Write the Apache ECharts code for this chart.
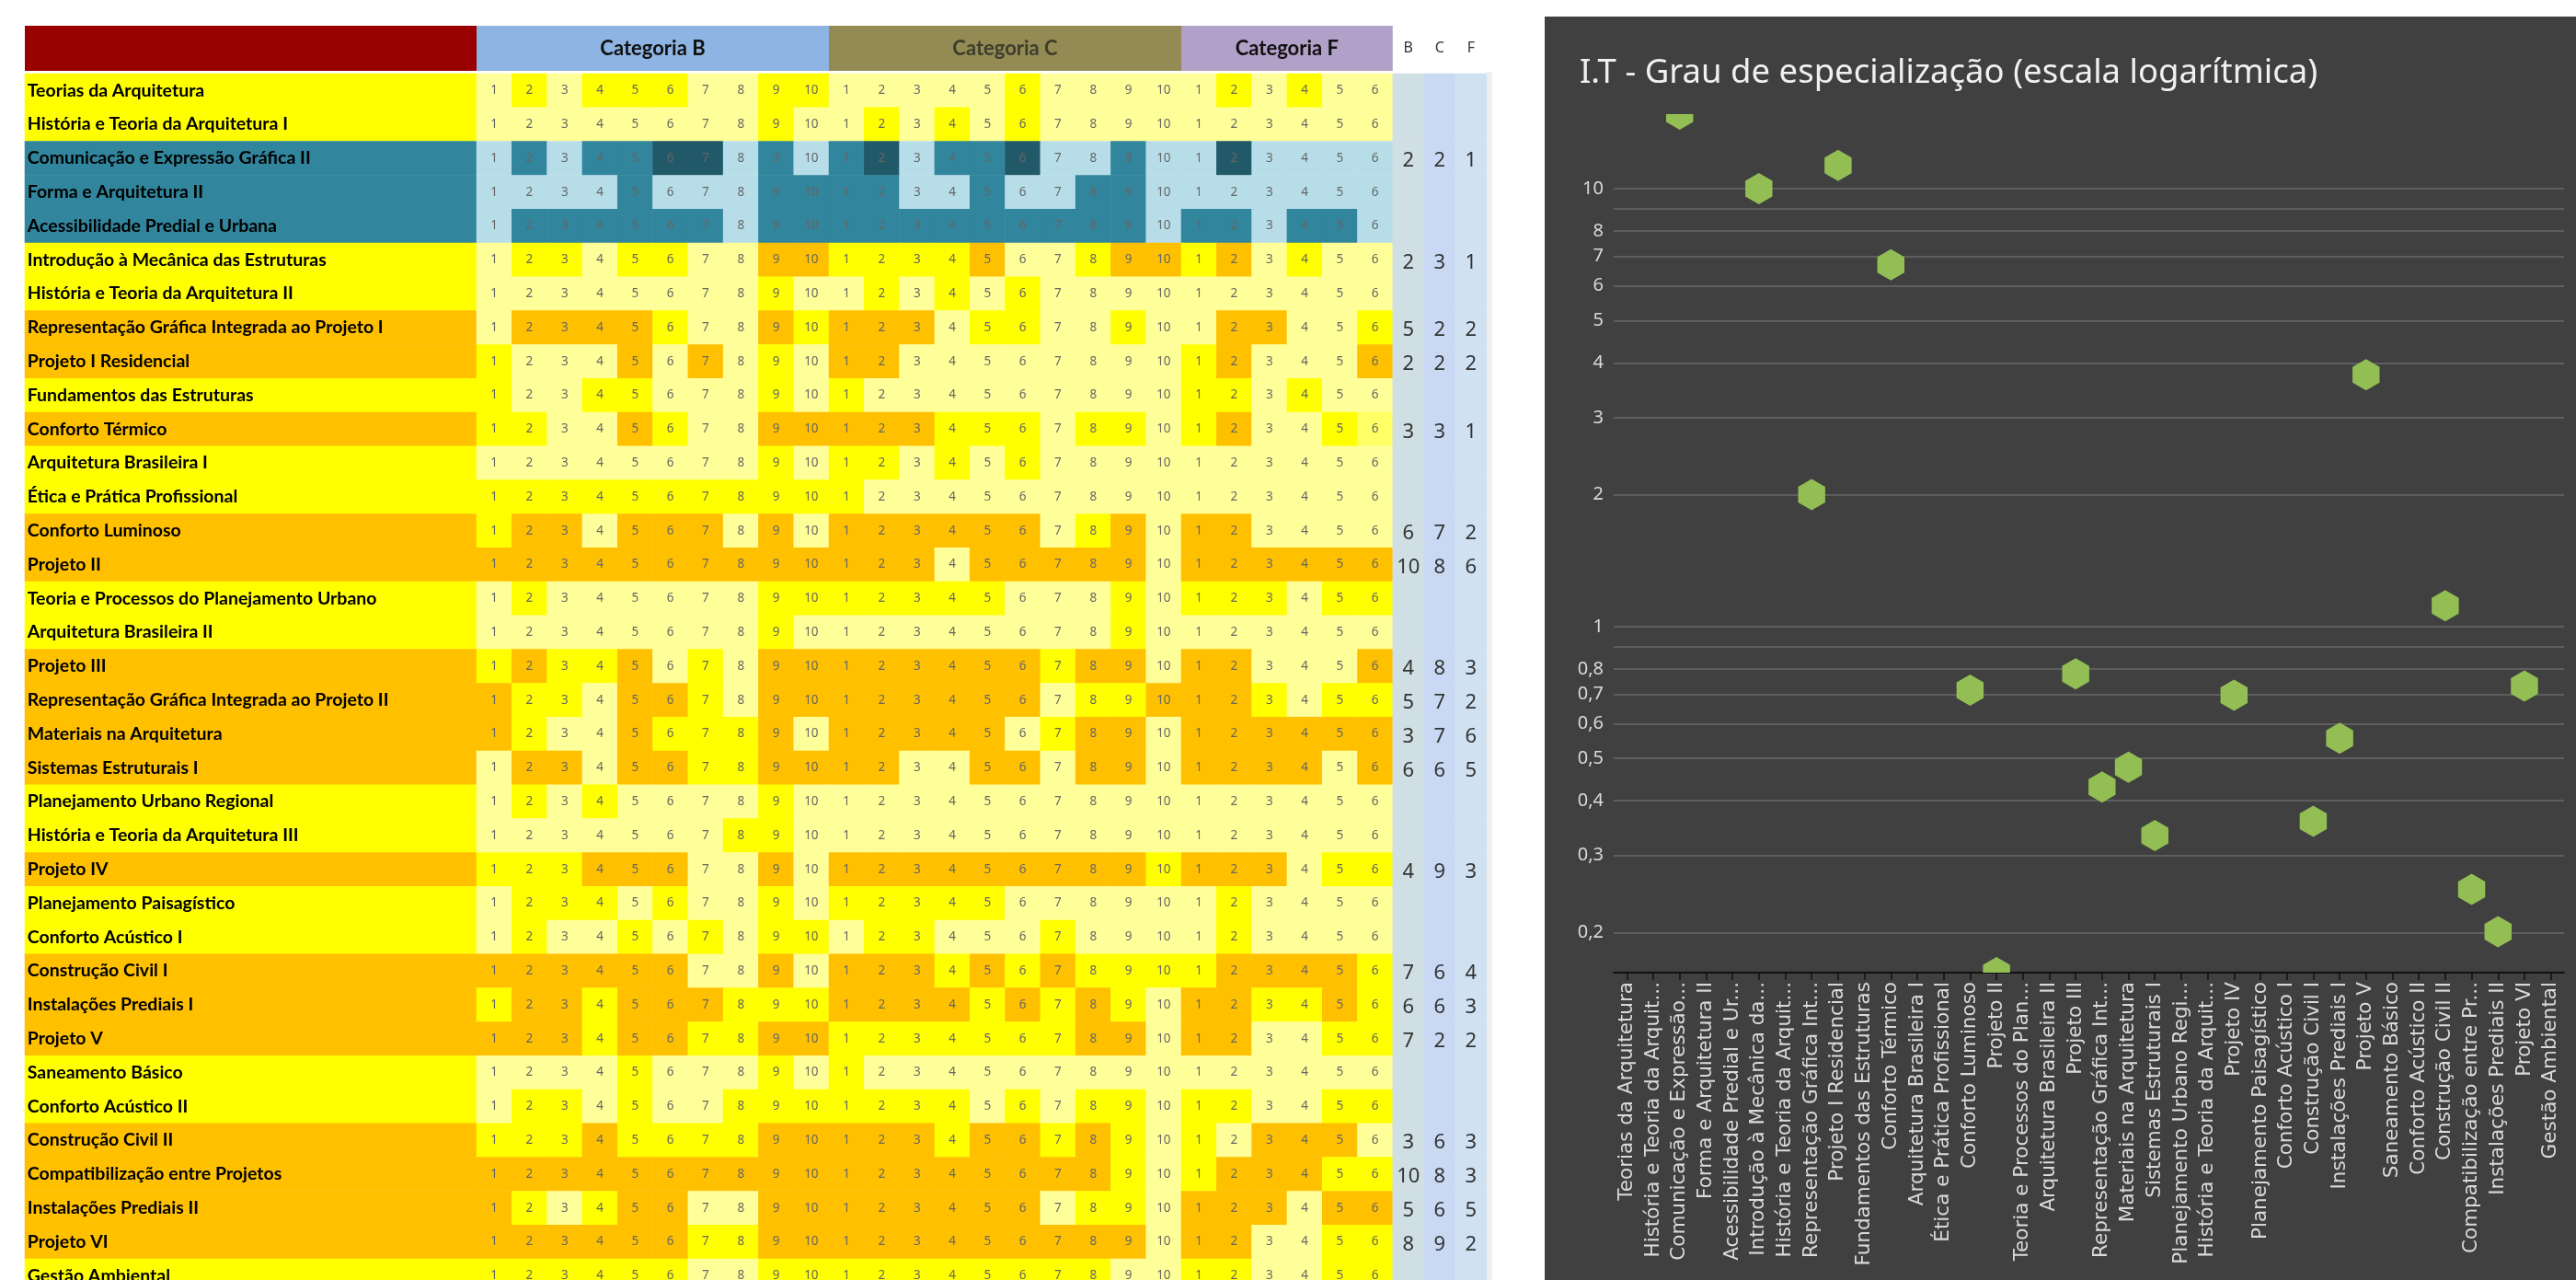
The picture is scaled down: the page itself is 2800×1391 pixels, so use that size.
<!DOCTYPE html>
<html><head><meta charset="utf-8">
<script src="https://cdn.jsdelivr.net/npm/echarts@6/dist/echarts.min.js"></script>
<style>
html,body{margin:0;padding:0;background:#ffffff;width:2800px;height:1391px;overflow:hidden;position:relative;}
#table{position:absolute;left:0;top:0;width:1679px;height:1460px;}
#chart{position:absolute;left:1679px;top:18px;width:1121px;height:1373px;}
</style>
</head><body>
<div id="table"></div><div id="chart"></div>
<script>
// ---------------- DATA ----------------
const courses = [
 'Teorias da Arquitetura','História e Teoria da Arquitetura I','Comunicação e Expressão Gráfica II','Forma e Arquitetura II',
 'Acessibilidade Predial e Urbana','Introdução à Mecânica das Estruturas','História e Teoria da Arquitetura II',
 'Representação Gráfica Integrada ao Projeto I','Projeto I Residencial','Fundamentos das Estruturas','Conforto Térmico',
 'Arquitetura Brasileira I','Ética e Prática Profissional','Conforto Luminoso','Projeto II',
 'Teoria e Processos do Planejamento Urbano','Arquitetura Brasileira II','Projeto III',
 'Representação Gráfica Integrada ao Projeto II','Materiais na Arquitetura','Sistemas Estruturais I',
 'Planejamento Urbano Regional','História e Teoria da Arquitetura III','Projeto IV','Planejamento Paisagístico',
 'Conforto Acústico I','Construção Civil I','Instalações Prediais I','Projeto V','Saneamento Básico',
 'Conforto Acústico II','Construção Civil II','Compatibilização entre Projetos','Instalações Prediais II',
 'Projeto VI','Gestão Ambiental'
];
// row tone: Y = yellow, O = orange, T = teal
const rowTone = ['Y','Y','T','T','T','Y','Y','O','O','Y','O','Y','Y','O','O','Y','Y','O','O','O','O','Y','Y','O','Y','Y','O','O','O','Y','Y','O','O','O','O','Y'];
// cell levels: 0 light, 1 medium, 2 strong, 3 pale-medium
const levelsB = ['0101110011','0000000010','0101122010','0000100011','0111111011','0110110022','0000000010','0222210021',
 '1000202010','1001100010','1100210022','0000000010','1111111111','1220222020','2222222222','0100000011','0000000010',
 '1211201022','2110221022','2100211120','0220221122','0101000010','0000000110','1112220020','0111010010','0100101011',
 '2222220020','1221222111','2221221122','0000100010','0110100111','1112111122','2222222222','2101220022','2222221122','1111110011'];
const levelsC = ['0000010000','0101010000','1201120010','1100100110','1111111110','1111200122','0101010000','2220110010',
 '2200000000','1000000000','2221110110','1101010000','1000000000','2222220120','2220222220','1111100010','0000000010',
 '2222221220','2222220112','2222201220','2200220220','0000000000','0000000000','2222222221','1111100000','0110001000',
 '2221212111','2222121210','1111111220','1000000000','1111010110','2221221210','2222222210','2222220110','2222222220','1111111100'];
const levelsF = ['010100','000000','020000','000000','110110','120100','000000','022001','120002','110100','120013','000000',
 '000000','220000','222222','111011','000000','220002','221011','222222','222202','000000','000000','222011','010000','010000',
 '122221','221121','220011','000000','110011','102220','122211','222022','220011','110011'];
const colNumbers = ['1','2','3','4','5','6','7','8','9','10','1','2','3','4','5','6','7','8','9','10','1','2','3','4','5','6'];
const categoryNames = ['Categoria B','Categoria C','Categoria F'];
const categorySizes = [10, 10, 6];
const countLetters = ['B','C','F'];
const countB = [null,null,2,null,null,2,null,5,2,null,3,null,null,6,10,null,null,4,5,3,6,null,null,4,null,null,7,6,7,null,null,3,10,5,8,null];
const countC = [null,null,2,null,null,3,null,2,2,null,3,null,null,7,8,null,null,8,7,7,6,null,null,9,null,null,6,6,2,null,null,6,8,6,9,null];
const countF = [null,null,1,null,null,1,null,2,2,null,1,null,null,2,6,null,null,3,2,6,5,null,null,3,null,null,4,3,2,null,null,3,3,5,2,null];

const chartTitle = 'I.T - Grau de especialização (escala logarítmica)';
const chartLabels = ['Teorias da Arquitetura','História e Teoria da Arquit...','Comunicação e Expressão...','Forma e Arquitetura II',
 'Acessibilidade Predial e Ur...','Introdução à Mecânica da...','História e Teoria da Arquit...','Representação Gráfica Int...',
 'Projeto I Residencial','Fundamentos das Estruturas','Conforto Térmico','Arquitetura Brasileira I','Ética e Prática Profissional',
 'Conforto Luminoso','Projeto II','Teoria e Processos do Plan...','Arquitetura Brasileira II','Projeto III',
 'Representação Gráfica Int...','Materiais na Arquitetura','Sistemas Estruturais I','Planejamento Urbano Regi...',
 'História e Teoria da Arquit...','Projeto IV','Planejamento Paisagístico','Conforto Acústico I','Construção Civil I',
 'Instalações Prediais I','Projeto V','Saneamento Básico','Conforto Acústico II','Construção Civil II',
 'Compatibilização entre Pr...','Instalações Prediais II','Projeto VI','Gestão Ambiental'];
const specialization = [null,null,14.8,null,null,10,null,2.0,11.3,null,6.7,null,null,0.716,0.162,null,null,0.78,0.43,0.477,0.333,
 null,null,0.697,null,null,0.359,0.556,3.76,null,null,1.115,0.251,0.201,0.731,null];
const yTickValues = [0.2,0.3,0.4,0.5,0.6,0.7,0.8,0.9,1,2,3,4,5,6,7,8,9,10];
const yLabelValues = [0.2,0.3,0.4,0.5,0.6,0.7,0.8,1,2,3,4,5,6,7,8,10];
const yMin = 0.162, yMax = 14.8;

// ---------------- LAYOUT / STYLE ----------------
const LY = {left:27, nameW:491, colW:38.3, cntW:34, headTop:28, headH:49, rowTop:80, rowH:36.8};
const nCols = colNumbers.length, nRows = courses.length;
const numLeft = LY.left + LY.nameW;
const cntLeft = numLeft + nCols * LY.colW;
const pieces = [
 {value:0,color:'#FFFF99'},{value:1,color:'#FFFF00'},{value:2,color:'#FFC000'},{value:3,color:'#FFFF66'},
 {value:10,color:'#B7DEE8'},{value:11,color:'#31859C'},{value:12,color:'#215968'},{value:13,color:'#B7DEE8'},
 {value:20,color:'#FFFF00'},{value:21,color:'#FFC000'},{value:22,color:'#31859C'},
 {value:30,color:'#D0DFE3'},{value:31,color:'#C9D9F3'},{value:32,color:'#D0E2F2'}
];
const toneCode = {Y:20, O:21, T:22};
const headColors = ['#8DB4E2','#948A54','#B1A0C7'];
const headText = ['#111111','#3d3d2c','#111111'];

// build data
const nameData = courses.map((c, i) => [0, i, toneCode[rowTone[i]]]);
const cellData = [];
courses.forEach((c, i) => {
  const lv = (levelsB[i] + levelsC[i] + levelsF[i]).split('').map(Number);
  lv.forEach((v, j) => cellData.push([j, i, rowTone[i] === 'T' ? 10 + v : v]));
});
const counts = [countB, countC, countF];
const cntData = [];
courses.forEach((c, i) => { for (let j = 0; j < 3; j++) cntData.push([j, i, 30 + j]); });

const idx = n => Array.from({length:n}, (_, i) => String(i));
const hiddenCat = (n, g, inv) => ({type:'category', gridIndex:g, data:idx(n), show:false, inverse:!!inv, boundaryGap:true});

// header graphics
const graphics = [];
graphics.push({type:'rect', shape:{x:LY.left, y:LY.headTop, width:LY.nameW, height:LY.headH}, style:{fill:'#990000'}});
let start = 0;
categoryNames.forEach((name, k) => {
  const x = numLeft + start * LY.colW, w = categorySizes[k] * LY.colW;
  graphics.push({type:'rect', shape:{x:x, y:LY.headTop, width:w, height:LY.headH}, style:{fill:headColors[k]}});
  graphics.push({type:'text', x:x + w/2, y:LY.headTop + LY.headH/2,
    style:{text:name, fill:headText[k], font:'bold 22px Lato, "Noto Sans", sans-serif', align:'center', verticalAlign:'middle'}});
  start += categorySizes[k];
});
countLetters.forEach((t, j) => {
  graphics.push({type:'text', x:cntLeft + (j + 0.5) * LY.cntW, y:LY.headTop + LY.headH/2,
    style:{text:t, fill:'#333333', font:'16px "Noto Sans", sans-serif', align:'center', verticalAlign:'middle'}});
});
graphics.push({type:'rect', shape:{x:cntLeft + 3*LY.cntW, y:LY.rowTop - 2, width:6, height:1391}, style:{fill:'#EFEFEF'}});

const tableChart = echarts.init(document.getElementById('table'), null, {renderer:'canvas'});
tableChart.setOption({
  animation:false,
  backgroundColor:'#ffffff',
  grid:[
    {left:LY.left, top:LY.rowTop, width:LY.nameW, height:nRows*LY.rowH},
    {left:numLeft, top:LY.rowTop, width:nCols*LY.colW, height:nRows*LY.rowH},
    {left:cntLeft, top:LY.rowTop, width:3*LY.cntW, height:nRows*LY.rowH}
  ],
  xAxis:[hiddenCat(1,0), hiddenCat(nCols,1), hiddenCat(3,2)],
  yAxis:[hiddenCat(nRows,0,true), hiddenCat(nRows,1,true), hiddenCat(nRows,2,true)],
  visualMap:{type:'piecewise', show:false, dimension:2, seriesIndex:[0,1,2], pieces:pieces},
  graphic:graphics,
  series:[
    {type:'heatmap', xAxisIndex:0, yAxisIndex:0, data:nameData, progressive:0, emphasis:{disabled:true},
     label:{show:true, position:'insideLeft', distance:3, formatter:p => courses[p.value[1]],
            color:'#000000', fontFamily:'Lato, "Noto Sans", sans-serif', fontWeight:'bold', fontSize:19.5}},
    {type:'heatmap', xAxisIndex:1, yAxisIndex:1, data:cellData, progressive:0, emphasis:{disabled:true},
     label:{show:true, formatter:p => colNumbers[p.value[0]], color:'#666666',
            fontFamily:'"Noto Sans", sans-serif', fontSize:13.5}},
    {type:'heatmap', xAxisIndex:2, yAxisIndex:2, data:cntData, progressive:0, emphasis:{disabled:true},
     label:{show:true, formatter:p => { const v = counts[p.value[0]][p.value[1]]; return v == null ? '' : String(v); },
            color:'#333333', fontFamily:'"Noto Sans", sans-serif', fontSize:22, offset:[0,3]}}
  ]
});

// ---------------- SCATTER CHART ----------------
const lg = v => Math.log10(v);
const fmt = v => { const n = Math.pow(10, v); return n < 1 ? n.toFixed(1).replace('.', ',') : String(Math.round(n)); };
const pts = [];
specialization.forEach((v, i) => { if (v != null) pts.push([i, lg(v)]); });
const HEX_R = 17;
const chart = echarts.init(document.getElementById('chart'), null, {renderer:'canvas'});
chart.setOption({
  animation:false,
  backgroundColor:'#404040',
  title:{text:chartTitle, left:33, top:38, textStyle:{color:'#f0f0f0', fontSize:36.5, fontWeight:'normal', fontFamily:'"Noto Sans", sans-serif'}},
  grid:{left:75, right:13, top:106, bottom:334},
  xAxis:{type:'category', data:chartLabels, boundaryGap:true,
    axisLine:{onZero:false, lineStyle:{color:'#111111', width:2}},
    axisTick:{show:true, alignWithLabel:true, length:8, lineStyle:{color:'#111111', width:1.5}},
    axisLabel:{interval:0, rotate:90, margin:10, color:'#d9d9d9', fontSize:21.5, fontFamily:'"DejaVu Sans", sans-serif'},
    splitLine:{show:false}},
  yAxis:{type:'value', min:lg(yMin), max:lg(yMax),
    axisLine:{show:false},
    axisTick:{show:false, customValues:yTickValues.map(lg)},
    axisLabel:{customValues:yLabelValues.map(lg), formatter:fmt, color:'#d9d9d9', fontSize:20, margin:11,
               fontFamily:'"Noto Sans", sans-serif'},
    splitLine:{show:true, lineStyle:{color:'#686868', width:1.5}}},
  series:[{
    type:'custom', clip:true, data:pts,
    renderItem:(params, api) => {
      const c = api.coord([api.value(0), api.value(1)]);
      const p = [];
      for (let k = 0; k < 6; k++) {
        const a = Math.PI / 3 * k - Math.PI / 2;
        p.push([c[0] + HEX_R * Math.cos(a), c[1] + HEX_R * Math.sin(a)]);
      }
      return {type:'polygon', shape:{points:p}, style:{fill:'#93BE54'}};
    }
  }]
});
</script>
</body></html>
